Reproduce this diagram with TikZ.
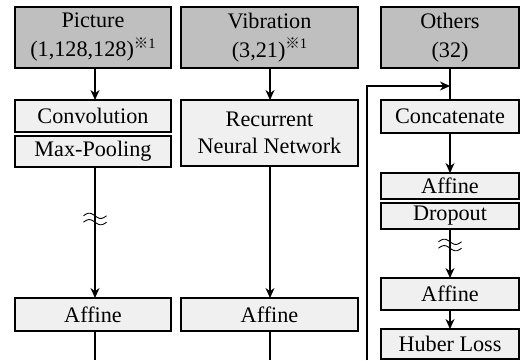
\documentclass[tikz,border=0pt]{standalone}
\usepackage{fontspec}
\setmainfont{Liberation Serif}
\newfontfamily\cjkfont{Noto Sans CJK JP}
\usetikzlibrary{arrows.meta}
\definecolor{hdrgray}{HTML}{BFBFBF}
\definecolor{boxgray}{HTML}{F0F0F0}
\newcommand{\refmark}{\raisebox{0.40em}{\fontsize{14.5}{14.5}\selectfont{\cjkfont ※}1}}
\begin{document}
\begin{tikzpicture}[x=1pt,y=-1pt,
  base/.style={draw=black, line width=1.6pt, inner sep=0pt, outer sep=0pt, align=center,
    font=\fontsize{22.2}{29}\selectfont, anchor=north west},
  hdr/.style={base, fill=hdrgray},
  blk/.style={base, fill=boxgray},
  conn/.style={line width=1.3pt},
  arr/.style={conn, -{Stealth[length=10pt,width=9pt]}},
  brk/.pic={
    \draw[line width=0.9pt] plot[domain=-11.5:11.5, samples=31, smooth] (\x,{-3.2+2.6*sin(\x*180/11.5)});
    \draw[line width=0.9pt] plot[domain=-11.5:11.5, samples=31, smooth] (\x,{3.2+2.6*sin(\x*180/11.5)});
  }]
\useasboundingbox (0,0) rectangle (521,360);
% headers
\node[hdr, minimum width=156pt, minimum height=61pt] (pic) at (15,7) {Picture\\(1,128,128)\refmark};
\node[hdr, minimum width=177pt, minimum height=61pt] (vib) at (181,7) {Vibration\\(3,21)\refmark};
\node[hdr, minimum width=138pt, minimum height=61pt] (oth) at (381,7) {Others\\(32)};
% column 1
\node[blk, minimum width=156pt, minimum height=32pt] (conv) at (15,100) {Convolution};
\node[blk, minimum width=156pt, minimum height=31pt] (maxp) at (15,136) {Max-Pooling};
\node[blk, minimum width=156pt, minimum height=33pt] (aff1) at (15,298) {Affine};
% column 2
\node[blk, minimum width=177pt, minimum height=66pt, font=\fontsize{22.2}{27}\selectfont] (rnn) at (181,100) {Recurrent\\Neural Network};
\node[blk, minimum width=177pt, minimum height=33pt] (aff2) at (181,298) {Affine};
% column 3
\node[blk, minimum width=138pt, minimum height=33pt] (cat) at (381,100) {Concatenate};
\node[blk, minimum width=138pt, minimum height=26pt] (aff3) at (381,173) {Affine};
\node[blk, minimum width=138pt, minimum height=26pt] (drop) at (381,203) {Dropout};
\node[blk, minimum width=138pt, minimum height=32pt] (aff4) at (381,278) {Affine};
\node[blk, minimum width=138pt, minimum height=30pt] (hub) at (381,329) {Huber Loss};
% free ends
\coordinate (b1) at (95,360);
\coordinate (b2) at (270,360);
\coordinate (b3) at (367,360);
\coordinate (j) at (450,86);
% connectors
\draw[arr] (pic.south -| 95,0) -- (conv.north -| 95,0);
\draw[arr] (vib.south -| 270,0) -- (rnn.north -| 270,0);
\draw[arr] (maxp.south -| 95,0) -- (aff1.north -| 95,0);
\draw[arr] (rnn.south -| 270,0) -- (aff2.north -| 270,0);
\draw[conn] (aff1.south -| 95,0) -- (b1);
\draw[conn] (aff2.south -| 270,0) -- (b2);
\draw[conn] (oth.south) -- (cat.north);
\draw[arr] (b3) -- (b3 |- j) -- (j);
\draw[arr] (cat.south) -- (aff3.north);
\draw[arr] (drop.south) -- (aff4.north);
\draw[arr] (aff4.south) -- (hub.north);
% break marks
\pic at (95,219) {brk};
\pic at (450,245) {brk};
\end{tikzpicture}
\end{document}
